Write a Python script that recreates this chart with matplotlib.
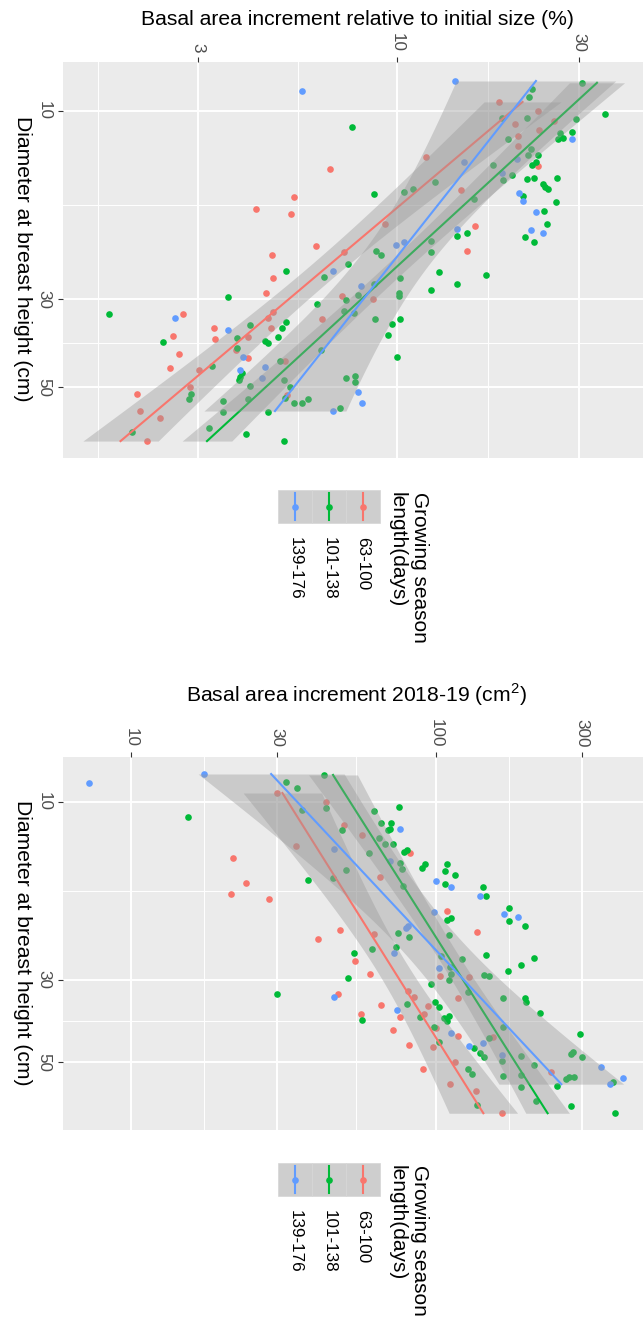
import numpy as np
import matplotlib
matplotlib.use('Agg')
import matplotlib.pyplot as plt
from matplotlib.lines import Line2D
from matplotlib.patches import Rectangle
from matplotlib.ticker import FixedLocator, NullFormatter

plt.rcParams['font.family'] = ['Liberation Sans', 'DejaVu Sans']
plt.rcParams['mathtext.fontset'] = 'custom'
plt.rcParams['mathtext.rm'] = 'Liberation Sans'

season_labels = ['63-100', '101-138', '139-176']
season_colors = ['#F8766D', '#00BA38', '#619CFF']

# relative basal area increment (%) against diameter (cm), one pair per season class
dbh_rel_63 = [16.5, 17.7, 18.2, 14.0, 13.1, 15.9, 19.3, 19.6, 9.49, 10.0, 10.8, 11.6,
              12.3, 11.2, 10.6, 13.8, 22.6, 22.8, 29.4, 29.9, 33.6, 22.0, 23.2, 26.5,
              28.9, 32.7, 35.4, 37.8, 37.1, 41.2, 44.7, 45.3, 37.4, 33.4, 32.3, 35.4,
              40.3, 42.2, 43.0, 52.4, 50.0, 52.1, 57.5, 59.9, 68.5]
bai_rel_63 = [5.36, 4.26, 5.26, 6.66, 11.9, 14.7, 9.29, 16.0, 18.5, 23.4, 20.4, 20.8,
              20.8, 23.6, 25.8, 23.4, 15.3, 7.25, 7.16, 8.64, 6.35, 6.12, 4.69, 4.72,
              4.52, 2.74, 3.31, 3.33, 2.58, 2.68, 2.53, 3.02, 4.06, 4.58, 4.72, 4.66,
              3.77, 4.06, 5.08, 5.14, 2.86, 2.08, 2.11, 2.39, 2.20]

dbh_rel_101 = [11.0, 16.2, 16.0, 15.8, 15.1, 16.7, 20.4, 20.7, 8.49, 8.80, 9.22, 10.4,
               10.4, 11.8, 10.5, 10.2, 11.3, 11.4, 11.8, 11.7, 12.5, 12.9, 12.9, 13.7,
               13.5, 13.7, 14.5, 15.0, 14.9, 14.8, 14.8, 15.3, 15.6, 15.8, 16.4, 17.0,
               17.9, 19.3, 20.8, 21.5, 25.6, 26.0, 27.4, 28.4, 22.6, 23.2, 21.3, 22.8,
               24.4, 26.3, 26.5, 27.4, 28.9, 29.4, 30.1, 29.2, 32.1, 32.5, 33.6, 33.6,
               34.6, 36.9, 42.0, 40.3, 47.4, 46.9, 48.5, 56.5, 25.4, 29.6, 32.7, 38.5,
               44.2, 34.8, 37.6, 35.4, 34.2, 38.2, 38.7, 37.4, 30.8, 39.8, 46.1, 47.1,
               48.0, 43.0, 48.0, 50.0, 53.3, 49.7, 53.6, 54.2, 57.8, 52.1, 53.6, 65.0,
               63.5, 65.7, 57.8, 68.5, 54.9, 54.9, 53.6]
bai_rel_101 = [7.61, 8.69, 10.4, 11.0, 12.6, 15.9, 15.3, 14.4, 30.6, 22.6, 22.2, 21.9,
               18.8, 19.5, 29.5, 35.1, 28.8, 26.8, 26.4, 27.2, 22.5, 22.0, 23.4, 22.6,
               23.1, 17.8, 20.0, 19.0, 21.9, 22.9, 26.3, 24.1, 24.4, 24.9, 21.4, 26.1,
               24.3, 24.7, 21.7, 22.9, 12.9, 17.1, 14.4, 12.3, 8.80, 9.07, 12.3, 12.3,
               7.43, 6.42, 10.2, 8.69, 10.1, 10.1, 7.34, 7.89, 7.25, 7.70, 8.74, 10.2,
               9.69, 9.46, 9.99, 6.31, 7.34, 7.75, 7.75, 7.08, 5.11, 3.60, 1.75, 2.43,
               3.26, 4.11, 3.80, 4.98, 5.11, 4.50, 4.58, 4.87, 6.16, 3.80, 3.91, 3.87,
               3.84, 4.92, 5.04, 5.23, 5.08, 4.11, 4.06, 3.49, 3.49, 2.88, 2.84, 2.01,
               3.21, 4.01, 4.58, 5.04, 5.36, 5.63, 5.83]

dbh_rel_139 = [8.90, 8.40, 13.5, 19.9, 11.8, 13.2, 14.4, 16.1, 16.9, 18.0, 20.0, 20.4,
               21.8, 21.5, 25.4, 27.7, 51.5, 54.9, 57.5, 33.4, 35.9, 42.0, 45.3, 44.5,
               47.4]
bai_rel_139 = [5.63, 14.2, 15.0, 14.4, 28.8, 20.6, 18.8, 20.9, 21.4, 23.1, 22.5, 24.1,
               9.93, 10.4, 6.79, 8.04, 7.89, 8.08, 6.79, 2.61, 3.60, 3.94, 3.87, 4.50,
               4.42]

# basal area increment 2018-19 (cm2) against diameter (cm)
dbh_abs_63 = [14.1, 16.5, 17.7, 18.2, 13.1, 9.46, 23.4, 10.0, 11.5, 12.3, 13.7, 15.9,
              19.6, 22.4, 22.1, 22.6, 26.8, 29.4, 29.6, 29.0, 32.8, 32.2, 33.4, 33.7,
              35.4, 35.1, 37.1, 37.8, 37.1, 41.0, 42.6, 40.5, 45.0, 45.6, 42.8, 53.2,
              50.0, 52.2, 57.3, 59.8, 68.6]
bai_abs_63 = [21.6, 23.8, 21.3, 28.4, 34.8, 30.1, 41.0, 43.6, 49.9, 57.2, 82.2, 65.5,
              109, 136, 48.5, 62.6, 54.3, 103, 128, 60.8, 47.7, 81.0, 84.7, 118,
              94.1, 66.0, 56.8, 76.2, 91.4, 72.3, 118, 100, 81.6, 97.8, 154, 238,
              115, 90.7, 111, 135, 165]

dbh_abs_101 = [11.0, 16.2, 8.84, 9.17, 10.5, 8.46, 10.4, 32.8, 10.3, 10.6, 11.4, 11.4,
               11.8, 11.9, 11.9, 12.5, 13.0, 13.0, 13.7, 13.6, 13.5, 14.6, 15.1, 15.0,
               14.7, 14.7, 15.3, 15.7, 16.6, 16.9, 17.9, 15.2, 16.0, 16.8, 20.8, 20.5,
               19.3, 20.9, 21.5, 22.8, 22.5, 23.1, 24.8, 24.5, 25.5, 25.8, 26.3, 27.4,
               28.5, 26.4, 27.8, 25.9, 29.0, 30.1, 29.2, 29.4, 30.9, 29.7, 32.4, 33.7,
               33.7, 34.5, 36.9, 34.9, 34.5, 35.6, 38.6, 37.8, 38.1, 37.6, 38.8, 40.3,
               44.2, 45.9, 43.1, 47.3, 48.5, 49.7, 48.2, 50.9, 40.3, 54.5, 54.2, 47.6,
               47.0, 48.5, 42.0, 54.9, 54.9, 55.6, 56.6, 58.0, 58.4, 52.2, 53.9, 63.7,
               65.7, 65.3, 68.6]
bai_abs_101 = [15.4, 38.0, 32.2, 35.0, 36.4, 43.0, 43.6, 30.1, 75.6, 62.6, 66.0, 71.2,
               70.7, 69.6, 49.2, 65.0, 68.1, 72.3, 60.3, 78.5, 80.3, 76.2, 77.4, 90.0,
               92.0, 109, 107, 115, 107, 143, 146, 50.7, 46.0, 78.0, 109, 112,
               174, 174, 196, 110, 75.1, 81.6, 61.7, 74.0, 53.8, 146, 210, 190,
               172, 122, 111, 104, 112, 110, 144, 149, 96.3, 51.5, 127, 166,
               196, 197, 219, 80.3, 99.3, 102, 57.2, 88.6, 106, 110, 109, 98.5,
               102, 133, 149, 139, 144, 165, 190, 210, 166, 166, 190, 277,
               281, 301, 297, 273, 284, 267, 381, 249, 190, 127, 131, 213,
               277, 136, 386]

dbh_abs_139 = [8.89, 8.41, 11.8, 13.4, 14.4, 16.3, 16.9, 17.9, 19.8, 20.0, 20.4, 21.8,
               21.5, 25.5, 27.9, 33.4, 36.2, 41.8, 45.3, 44.5, 47.9, 51.6, 55.2, 57.3]
bai_abs_139 = [7.28, 17.4, 76.2, 46.3, 70.7, 100, 112, 139, 98.5, 167, 186, 79.7,
               81.0, 72.8, 102, 46.3, 74.5, 112, 128, 143, 165, 348, 410, 372]

W, H = 643, 1319


def fx(x):
    return x / W


def fy(y):
    return 1 - y / H


def lm_band(dbh, val, n=80):
    # straight line in log-log space with a 95% confidence band
    x = np.log10(dbh)
    y = np.log10(val)
    slope, icpt = np.polyfit(x, y, 1)
    xs = np.linspace(x.min(), x.max(), n)
    fit = icpt + slope * xs
    df = len(x) - 2
    s = np.sqrt(np.sum((y - (icpt + slope * x)) ** 2) / df)
    se = s * np.sqrt(1 / len(x) + (xs - x.mean()) ** 2 / np.sum((x - x.mean()) ** 2))
    z = 1.959964
    t = z + (z ** 3 + z) / (4 * df) + (5 * z ** 5 + 16 * z ** 3 + 3 * z) / (96 * df ** 2)
    return 10 ** xs, 10 ** fit, 10 ** (fit - t * se), 10 ** (fit + t * se)


def minor_breaks(major):
    lb = np.log10(major)
    step = lb[1] - lb[0]
    ext = np.concatenate([[lb[0] - step], lb, [lb[-1] + step]])
    return 10 ** ((ext[:-1] + ext[1:]) / 2)


def panel(ax, groups, xlim, ylim, xmajor):
    ax.set_facecolor('#EBEBEB')
    ax.set_xscale('log')
    ax.set_yscale('log')
    for sp in ax.spines.values():
        sp.set_visible(False)
    ax.set_xlim(*xlim)
    ax.set_ylim(ylim[1], ylim[0])

    ax.xaxis.tick_top()
    ax.set_xticks(xmajor, labels=[str(v) for v in xmajor])
    ax.xaxis.set_minor_locator(FixedLocator(minor_breaks(xmajor)))
    ax.xaxis.set_minor_formatter(NullFormatter())
    ymajor = [10, 30, 50]
    ax.set_yticks(ymajor, labels=[str(v) for v in ymajor])
    ax.yaxis.set_minor_locator(FixedLocator(minor_breaks(ymajor)))
    ax.yaxis.set_minor_formatter(NullFormatter())

    ax.tick_params(which='major', length=3.6, width=0.8, color='#333333',
                   labelsize=12.3, labelcolor='#4D4D4D')
    ax.tick_params(which='minor', length=0)
    ax.tick_params(axis='x', pad=3.4, labelrotation=-90)
    ax.tick_params(axis='y', pad=4.5, labelrotation=-90)
    for lab in ax.get_yticklabels():
        lab.set_va('center')

    ax.set_axisbelow(True)
    ax.grid(which='major', color='white', lw=1.4)
    ax.grid(which='minor', color='white', lw=0.7)

    for (dbh, val), col in zip(groups, season_colors):
        ax.scatter(val, dbh, s=23, color=col, linewidths=0, zorder=2)
    for (dbh, val), col in zip(groups, season_colors):
        d, fit, lo, hi = lm_band(dbh, val)
        ax.fill_betweenx(d, lo, hi, color='#999999', alpha=0.4, lw=0, zorder=3)
        ax.plot(fit, d, color=col, lw=1.5, zorder=3)


def legend(fig, key_top):
    kw = 34
    x_right = 380
    for i, (lab, col) in enumerate(zip(season_labels, season_colors)):
        x0 = x_right - (i + 1) * kw
        fig.add_artist(Rectangle((fx(x0), fy(key_top + 33)), kw / W, 33 / H,
                                 transform=fig.transFigure, facecolor='#CECECE',
                                 edgecolor='#D6D6D6', lw=0.5))
        xc = x0 + kw / 2
        fig.add_artist(Line2D([fx(xc), fx(xc)], [fy(key_top + 3), fy(key_top + 30)],
                              transform=fig.transFigure, color=col, lw=1.5))
        fig.add_artist(Line2D([fx(xc)], [fy(key_top + 16.5)], transform=fig.transFigure,
                              marker='o', ms=4.8, mew=0, color=col))
        fig.text(fx(xc), fy(key_top + 47), lab, rotation=-90, ha='center', va='top',
                 fontsize=12.3, color='black')
    fig.text(fx(420), fy(key_top + 2), 'Growing season', rotation=-90,
             ha='center', va='top', fontsize=15)
    fig.text(fx(397), fy(key_top + 2), 'length(days)', rotation=-90,
             ha='center', va='top', fontsize=15)


fig = plt.figure(figsize=(W / 100, H / 100), dpi=100)
fig.patch.set_facecolor('white')

ax1 = fig.add_axes([fx(63), fy(458), (643 - 63) / W, (458 - 62) / H])
panel(ax1, [(dbh_rel_63, bai_rel_63), (dbh_rel_101, bai_rel_101),
            (dbh_rel_139, bai_rel_139)],
      (1.327, 44.2), (7.52, 75.6), [3, 10, 30])

ax2 = fig.add_axes([fx(63), fy(1130), (643 - 63) / W, (1130 - 757) / H])
panel(ax2, [(dbh_abs_63, bai_abs_63), (dbh_abs_101, bai_abs_101),
            (dbh_abs_139, bai_abs_139)],
      (5.98, 477), (7.57, 76.1), [10, 30, 100, 300])

fig.text(fx(357), fy(25), 'Basal area increment relative to initial size (%)',
         ha='center', va='baseline', fontsize=15.2)
fig.text(fx(356), fy(702), 'Basal area increment 2018-19 (cm$^2$)',
         ha='center', va='baseline', fontsize=15.2)
fig.text(fx(22), fy(259), 'Diameter at breast height (cm)', rotation=-90,
         ha='center', va='center', fontsize=15.2)
fig.text(fx(22), fy(943), 'Diameter at breast height (cm)', rotation=-90,
         ha='center', va='center', fontsize=15.2)

legend(fig, 490)
legend(fig, 1163)

fig.savefig('out.png', dpi=100, facecolor='white')
